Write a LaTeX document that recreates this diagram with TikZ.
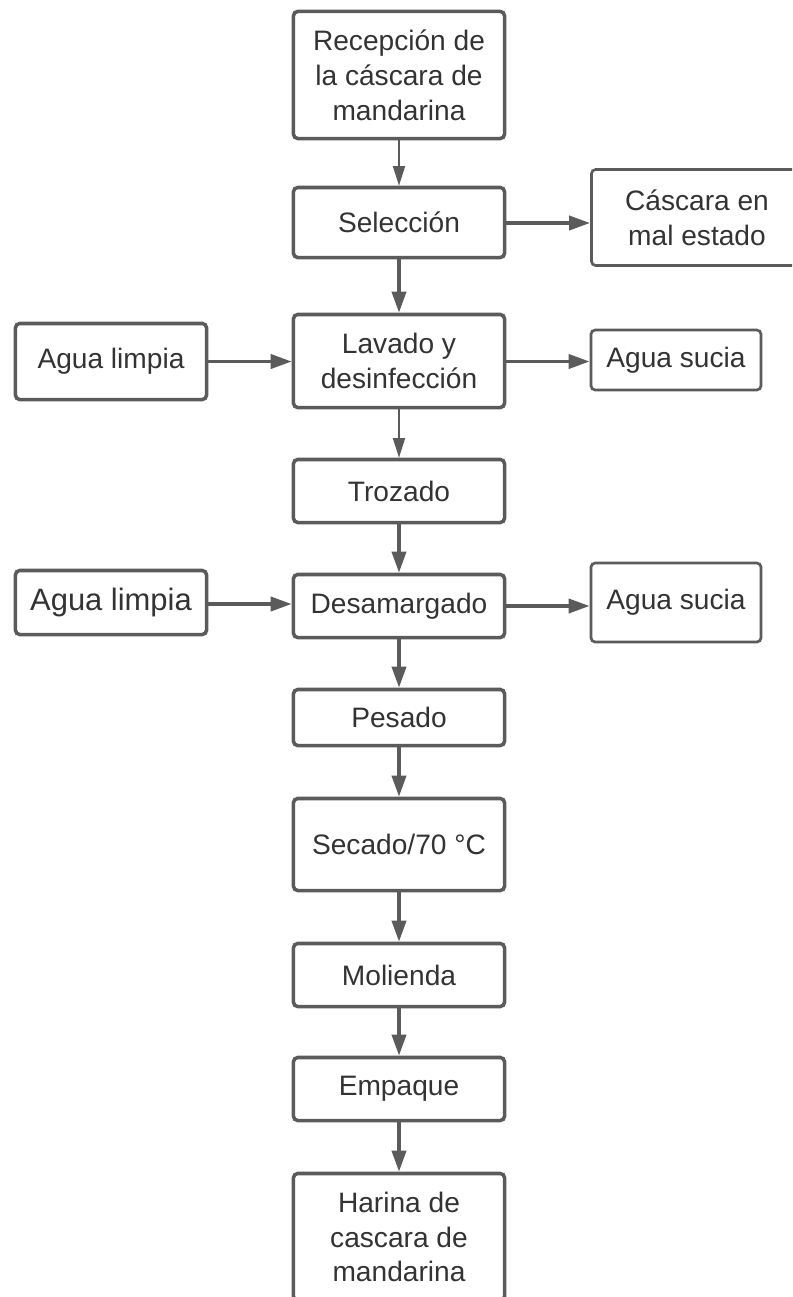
\documentclass[tikz,border=0pt]{standalone}
\usepackage{fontspec}
\setmainfont{Liberation Sans}
\usepackage{tikz}
\usetikzlibrary{arrows.meta,positioning}
\definecolor{lnGray}{HTML}{5B5B5B}
\definecolor{txGray}{HTML}{333333}

\begin{document}
\begin{tikzpicture}[
  x=0.025cm, y=-0.025cm,
  font=\fontsize{20}{24.8}\selectfont, text=txGray,
  box/.style={draw=lnGray, rounded corners=3pt, align=center, inner sep=0pt,
    line width=2.5pt, fill=white},
  proc/.style={box, minimum width=5.275cm, minimum height=#1},
  side/.style={box, line width=1.9pt},
  fl/.style={draw=lnGray, line width=1.4pt, -{Triangle[length=14pt, width=8.5pt]}},
  flb/.style={draw=lnGray, line width=2.6pt, -{Triangle[length=15pt, width=10pt]}},
]
\clip (0,0) rectangle (792,1297);
\fill[white] (0,0) rectangle (792,1297);
% main column
\node[proc=3.175cm] (rec) at (399,75) {Recepción de\\la cáscara de\\mandarina};
\node[proc=1.75cm] (sel) at (399,222.5) {Selección};
\node[proc=2.325cm] (lav) at (399,361) {Lavado y\\desinfección};
\node[proc=1.575cm] (tro) at (399,491) {Trozado};
\node[proc=1.575cm] (des) at (399,606) {Desamargado};
\node[proc=1.4cm] (pes) at (399,717.5) {Pesado};
\node[proc=2.3cm] (sec) at (399,844.5) {Secado/70 °C};
\node[proc=1.575cm] (mol) at (399,975) {Molienda};
\node[proc=1.575cm] (emp) at (399,1089) {Empaque};
\node[proc=3.175cm] (har) at (399,1237) {Harina de\\cascara de\\mandarina};
% inputs and outputs
\node[side, minimum width=5.275cm, minimum height=2.4cm] (cas) at (697,217.5) {Cáscara en\\mal estado};
\node[side, minimum width=4.25cm, minimum height=1.5cm] (as1) at (676,360) {Agua sucia};
\node[side, minimum width=4.25cm, minimum height=1.975cm] (as2) at (676,602.5) {Agua sucia};
\node[box, minimum width=4.775cm, minimum height=1.9cm] (al1) at (111,361.5) {Agua limpia};
\node[box, minimum width=4.775cm, minimum height=1.6cm, font=\fontsize{22}{26}\selectfont] (al2) at (111,602.5) {Agua limpia};
% flow
\draw[fl] (rec) -- (sel);
\draw[flb] (sel) -- (lav);
\draw[fl] (lav) -- (tro);
\draw[flb] (tro) -- (des);
\draw[flb] (des) -- (pes);
\draw[flb] (pes) -- (sec);
\draw[flb] (sec) -- (mol);
\draw[flb] (mol) -- (emp);
\draw[flb] (emp) -- (har);
\draw[flb] (sel.east |- 0,223) -- (cas.west |- 0,223);
\draw[flb] (al1) -- (al1 -| lav.west);
\draw[flb] (lav.east |- 0,361.5) -- (as1.west |- 0,361.5);
\draw[flb] (al2.east |- 0,604) -- (des.west |- 0,604);
\draw[flb] (des.east |- 0,606) -- (as2.west |- 0,606);
\end{tikzpicture}
\end{document}
